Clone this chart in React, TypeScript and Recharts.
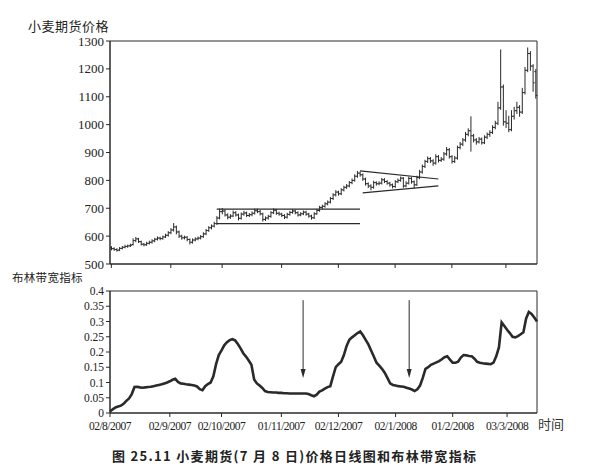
import React from 'react';
import { ComposedChart, Bar, Line, XAxis, YAxis, ReferenceLine, ReferenceArea } from 'recharts';

// trading-day index of each month label on the time axis
const tickIndex = [0, 22, 41, 63, 84, 105, 126, 146];
const tickLabels = ['02/8/2007', '02/9/2007', '02/10/2007', '01/11/2007', '02/12/2007', '02/1/2008', '01/2/2008', '03/3/2008'];

const priceTicks = [500, 600, 700, 800, 900, 1000, 1100, 1200, 1300];
const bwTicks = [0, 0.05, 0.1, 0.15, 0.2, 0.25, 0.3, 0.35, 0.4];

// daily wheat futures prices (cents/bushel)
const opens = [
  558, 555, 552, 550, 556, 560, 563, 565, 570, 584,
  590, 580, 571, 569, 574, 578, 583, 589, 593, 591,
  597, 603, 612, 622, 633, 615, 600, 594, 596, 588,
  578, 586, 590, 593, 598, 608, 620, 630, 636, 645,
  665, 688, 690, 676, 668, 672, 684, 676, 664, 679,
  683, 674, 677, 682, 691, 688, 680, 660, 665, 671,
  684, 693, 682, 679, 674, 668, 678, 685, 690, 684,
  676, 680, 686, 679, 672, 666, 680, 692, 703, 707,
  716, 722, 735, 748, 758, 752, 766, 775, 780, 792,
  800, 815, 826, 820, 805, 788, 780, 775, 792, 788,
  790, 802, 796, 790, 784, 778, 795, 800, 808, 780,
  790, 807, 795, 784, 810, 830, 850, 868, 878, 870,
  862, 885, 872, 876, 895, 910, 885, 868, 880, 918,
  930, 945, 965, 978, 960, 945, 938, 948, 935, 955,
  965, 972, 990, 1005, 1060, 1135, 1010, 1005, 982, 1030,
  1050, 1062, 1045, 1115, 1195, 1255, 1210, 1190,
];
const highs = [
  562, 558, 555, 559, 563, 567, 568, 571, 590, 595,
  592, 582, 574, 578, 582, 587, 592, 597, 596, 600,
  607, 616, 627, 645, 636, 618, 603, 600, 598, 590,
  590, 594, 597, 602, 612, 624, 634, 640, 650, 670,
  697, 699, 694, 680, 677, 690, 688, 679, 683, 689,
  686, 681, 687, 697, 697, 692, 682, 669, 675, 688,
  698, 696, 686, 682, 677, 682, 689, 695, 693, 687,
  684, 690, 689, 682, 675, 684, 696, 707, 711, 720,
  726, 739, 752, 763, 761, 770, 779, 785, 796, 805,
  820, 832, 830, 823, 808, 791, 784, 797, 795, 795,
  807, 806, 799, 793, 787, 799, 805, 812, 810, 795,
  812, 810, 798, 815, 836, 855, 872, 884, 882, 874,
  892, 889, 882, 900, 918, 914, 889, 886, 923, 936,
  950, 972, 985, 1028, 965, 950, 954, 952, 960, 970,
  978, 996, 1012, 1080, 1268, 1142, 1050, 1030, 1050, 1062,
  1080, 1068, 1130, 1205, 1275, 1262, 1215, 1198,
];
const lows = [
  551, 549, 546, 548, 554, 558, 560, 563, 568, 580,
  577, 568, 565, 567, 572, 575, 580, 586, 587, 589,
  595, 600, 609, 618, 608, 595, 589, 590, 583, 572,
  575, 583, 587, 590, 596, 605, 617, 626, 633, 642,
  662, 680, 672, 662, 664, 670, 672, 658, 661, 675,
  670, 670, 673, 679, 684, 676, 654, 656, 661, 668,
  681, 678, 675, 670, 663, 665, 675, 682, 680, 672,
  673, 677, 675, 668, 661, 663, 678, 689, 698, 704,
  712, 719, 731, 744, 747, 749, 762, 771, 777, 788,
  797, 811, 815, 800, 783, 774, 766, 772, 783, 784,
  787, 792, 786, 779, 773, 775, 792, 797, 775, 777,
  787, 790, 772, 782, 806, 826, 846, 864, 864, 854,
  858, 866, 868, 872, 890, 880, 862, 864, 876, 913,
  925, 940, 960, 905, 938, 930, 934, 930, 932, 950,
  958, 968, 985, 1000, 1055, 998, 990, 975, 978, 1020,
  1040, 1030, 1040, 1110, 1190, 1195, 1120, 1095,
];
const closes = [
  555, 552, 549, 556, 560, 563, 565, 567, 584, 590,
  580, 571, 569, 574, 578, 583, 589, 593, 591, 597,
  603, 612, 622, 633, 615, 600, 594, 596, 588, 578,
  586, 590, 593, 598, 608, 620, 630, 636, 645, 665,
  688, 690, 676, 668, 672, 684, 676, 664, 679, 683,
  674, 677, 682, 691, 688, 680, 660, 665, 671, 684,
  693, 682, 679, 674, 668, 678, 685, 690, 684, 676,
  680, 686, 679, 672, 666, 680, 692, 703, 707, 716,
  722, 735, 748, 758, 752, 766, 775, 780, 792, 800,
  815, 826, 820, 805, 788, 780, 775, 792, 788, 790,
  802, 796, 790, 784, 778, 795, 800, 808, 780, 790,
  807, 795, 784, 810, 830, 850, 868, 878, 870, 862,
  885, 872, 876, 895, 910, 885, 868, 880, 918, 930,
  945, 965, 978, 960, 945, 938, 948, 935, 955, 965,
  972, 990, 1005, 1060, 1135, 1010, 1005, 982, 1030, 1050,
  1062, 1045, 1115, 1195, 1255, 1210, 1150, 1105,
];

// Bollinger bandwidth, one value per trading day
const bandwidth = [
  0.005, 0.012, 0.018, 0.021, 0.024, 0.030, 0.040, 0.048, 0.062, 0.085,
  0.086, 0.084, 0.083, 0.084, 0.085, 0.086, 0.088, 0.090, 0.092, 0.094,
  0.097, 0.100, 0.104, 0.109, 0.112, 0.102, 0.097, 0.096, 0.094, 0.093,
  0.092, 0.090, 0.087, 0.078, 0.075, 0.088, 0.095, 0.100, 0.120, 0.160,
  0.190, 0.205, 0.222, 0.232, 0.239, 0.242, 0.238, 0.226, 0.212, 0.196,
  0.185, 0.172, 0.158, 0.110, 0.097, 0.090, 0.082, 0.072, 0.069, 0.068,
  0.067, 0.067, 0.066, 0.066, 0.065, 0.065, 0.064, 0.064, 0.064, 0.064,
  0.064, 0.064, 0.064, 0.062, 0.058, 0.055, 0.060, 0.070, 0.074, 0.080,
  0.085, 0.088, 0.120, 0.150, 0.160, 0.168, 0.190, 0.220, 0.240, 0.248,
  0.255, 0.262, 0.267, 0.255, 0.240, 0.225, 0.205, 0.185, 0.165, 0.155,
  0.145, 0.132, 0.115, 0.097, 0.092, 0.090, 0.088, 0.087, 0.086, 0.083,
  0.080, 0.077, 0.072, 0.078, 0.090, 0.115, 0.145, 0.150, 0.158, 0.162,
  0.166, 0.170, 0.176, 0.183, 0.186, 0.175, 0.165, 0.165, 0.168, 0.182,
  0.190, 0.189, 0.187, 0.186, 0.178, 0.168, 0.165, 0.163, 0.162, 0.161,
  0.160, 0.165, 0.186, 0.215, 0.297, 0.285, 0.273, 0.262, 0.250, 0.248,
  0.252, 0.258, 0.265, 0.310, 0.331, 0.325, 0.313, 0.300,
];

// drawn pattern lines: [startIndex, startPrice, endIndex, endPrice]
const rangeLines = [
  [39, 697, 92, 697],
  [39, 645, 92, 645],
];
const triangleLines = [
  [92, 834, 121, 805],
  [93, 755, 121, 780],
];
const arrowIndex = [71, 110];
const arrowFrom = 0.37;
const arrowTo = 0.115;

const priceData = closes.map((c, i) => ({ i, open: opens[i], high: highs[i], low: lows[i], close: c }));
const bwData = bandwidth.map((v, i) => ({ i, bw: v }));

const INK = '#2a2a2a';
const serif = 'Liberation Serif, Times New Roman, serif';
const cjk = 'Noto Sans CJK SC, sans-serif';

const OhlcBar = (props: any) => {
  const { x, y, width, height, payload } = props;
  if (payload == null || x == null) return null;
  const top = Math.min(y, y + height);
  const h = Math.abs(height);
  const cx = x + width / 2;
  const span = payload.high - payload.low || 1;
  const yOf = (v: number) => top + ((payload.high - v) / span) * h;
  return (
    <g stroke={INK} strokeWidth={1}>
      <line x1={cx} x2={cx} y1={top - 0.5} y2={top + h + 0.5} />
      <line x1={cx - 1.6} x2={cx} y1={yOf(payload.open)} y2={yOf(payload.open)} />
      <line x1={cx} x2={cx + 1.6} y1={yOf(payload.close)} y2={yOf(payload.close)} />
    </g>
  );
};

const Arrow = (props: any) => {
  const { x1, y1, x2, y2 } = props;
  const tipY = Math.max(y1, y2);
  const tailY = Math.min(y1, y2);
  return (
    <g>
      <line x1={x1} x2={x2} y1={tailY} y2={tipY - 4} stroke={INK} strokeWidth={1} />
      <path d={`M${x2 - 2.5},${tipY - 9} L${x2 + 2.5},${tipY - 9} L${x2},${tipY} Z`} fill={INK} />
    </g>
  );
};

const axisTick = { fill: '#222', fontSize: 13, fontFamily: serif };

export default function App() {
  return (
    <div style={{ position: 'absolute', left: 0, top: 0, width: 589, height: 475, background: '#fff' }}>
      <svg width={589} height={475} style={{ position: 'absolute', left: 0, top: 0 }}>
        <text x={28} y={31} fontSize={13} fontFamily={cjk} fill="#222" letterSpacing={0.5}>小麦期货价格</text>
        <text x={12} y={282} fontSize={11.5} fontFamily={cjk} fill="#222" letterSpacing={0.3}>布林带宽指标</text>
        <text x={538} y={429} fontSize={13} fontFamily={cjk} fill="#333">时间</text>
        <text x={112} y={461} fontSize={13} fontWeight="bold" fontFamily={cjk} fill="#222" textLength={364} lengthAdjust="spacing">
          图 25.11   小麦期货(7 月 8 日)价格日线图和布林带宽指标
        </text>
      </svg>

      <div style={{ position: 'absolute', left: 0, top: 0 }}>
        <ComposedChart width={589} height={275} data={priceData} margin={{ top: 41, right: 52, bottom: 6, left: 0 }} barCategoryGap={0}>
          <XAxis dataKey="i" ticks={tickIndex} interval={0} tickFormatter={() => ''} tickSize={4} height={5} stroke={INK} />
          <YAxis domain={[500, 1300]} ticks={priceTicks} interval={0} width={110} tickSize={4} tickMargin={2} stroke={INK} tick={axisTick} />
          <ReferenceArea y1={500} y2={1300} fill="none" stroke={INK} strokeWidth={1} ifOverflow="visible" />
          <Bar dataKey={(d: any) => [d.low, d.high]} shape={OhlcBar} isAnimationActive={false} />
          {rangeLines.concat(triangleLines).map((s, k) => (
            <ReferenceLine
              key={k}
              segment={[{ x: s[0], y: s[1] }, { x: s[2], y: s[3] }]}
              stroke={INK}
              strokeWidth={1.2}
              ifOverflow="visible"
            />
          ))}
        </ComposedChart>
      </div>

      <div style={{ position: 'absolute', left: 0, top: 270 }}>
        <ComposedChart width={589} height={168} data={bwData} margin={{ top: 21, right: 52, bottom: 5, left: 0 }}>
          <XAxis
            dataKey="i"
            ticks={tickIndex}
            interval={0}
            tickFormatter={(v: number) => tickLabels[tickIndex.indexOf(v)] || ''}
            tickSize={4}
            tickMargin={5}
            height={20}
            stroke={INK}
            tick={{ ...axisTick, fontSize: 11.5, letterSpacing: -0.5 }}
          />
          <YAxis domain={[0, 0.4]} ticks={bwTicks} interval={0} width={110} tickSize={4} tickMargin={2} stroke={INK} tick={{ ...axisTick, fontSize: 11.5 }} />
          <ReferenceArea y1={0} y2={0.4} fill="none" stroke={INK} strokeWidth={1} ifOverflow="visible" />
          <Line dataKey="bw" type="linear" stroke={INK} strokeWidth={2.6} dot={false} isAnimationActive={false} />
          {arrowIndex.map((ix) => (
            <ReferenceLine
              key={ix}
              segment={[{ x: ix, y: arrowFrom }, { x: ix, y: arrowTo }]}
              shape={Arrow}
              ifOverflow="visible"
            />
          ))}
        </ComposedChart>
      </div>
    </div>
  );
}
